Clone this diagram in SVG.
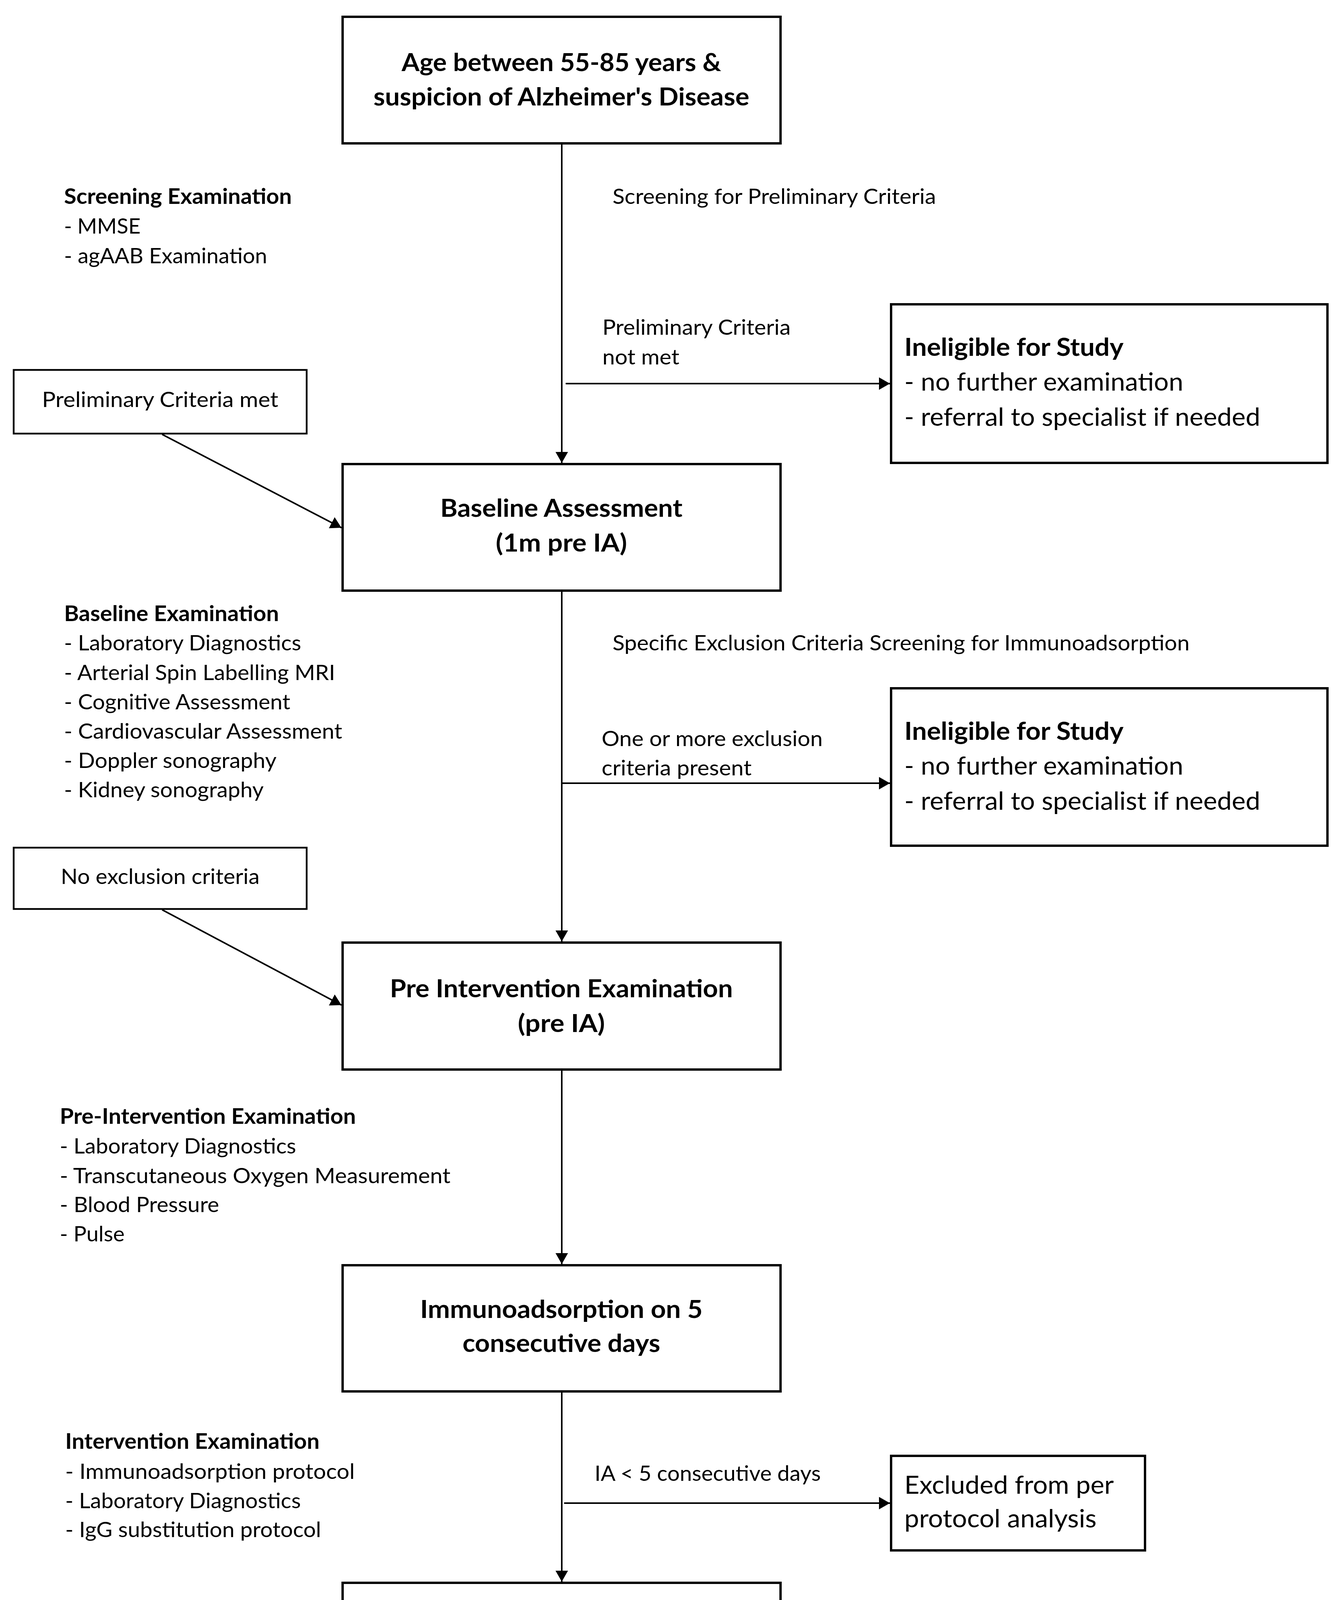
<svg xmlns="http://www.w3.org/2000/svg" width="3425" height="5386" viewBox="0 0 3425 5386">
<style>
  .box { fill: #ffffff; stroke: #000000; stroke-width: 6; }
  .sbox { fill: #ffffff; stroke: #000000; stroke-width: 4.5; }
  .conn { fill: none; stroke: #000000; stroke-width: 4; marker-end: url(#arrow); }
  text { font-family: Lato, "Open Sans", "Liberation Sans", sans-serif; fill: #000000; }
  .tb { font-weight: 700; font-size: 64px; text-anchor: middle; }
  .sh { font-weight: 700; font-size: 55px; }
  .sr { font-size: 55px; }
  .sc { font-size: 55px; text-anchor: middle; }
  .rb { font-weight: 700; font-size: 64px; }
  .rr { font-size: 64px; }
</style>
<defs>
  <marker id="arrow" markerUnits="userSpaceOnUse" markerWidth="28" markerHeight="32" refX="28" refY="16" orient="auto">
    <path d="M0,0 L28,16 L0,32 Z" fill="#000000"/>
  </marker>
</defs>
<rect x="0" y="0" width="3425" height="5386" fill="#ffffff"/>

<g id="connectors">
  <path class="conn" d="M1438,370 V1185"/>
  <path class="conn" d="M1438,1515 V2410"/>
  <path class="conn" d="M1438,2741 V3236"/>
  <path class="conn" d="M1438,3565 V4049"/>
  <path class="conn" d="M1438,4377 V5035"/>
  <path class="conn" d="M1448,982 H2278"/>
  <path class="conn" d="M1438,2005 H2278"/>
  <path class="conn" d="M1444,3848 H2278"/>
  <path class="conn" d="M1444,4748 H2278"/>
  <path class="conn" d="M415,1112 L874,1351"/>
  <path class="conn" d="M415,2329 L874,2573"/>
</g>

<g id="node-start">
  <rect class="box" x="877" y="43" width="1121" height="324"/>
  <text class="tb" x="1437" y="182" textLength="818" lengthAdjust="spacingAndGlyphs">Age between 55-85 years &amp;</text>
  <text class="tb" x="1437" y="270" textLength="962" lengthAdjust="spacingAndGlyphs">suspicion of Alzheimer's Disease</text>
</g>

<g id="label-screening-exam">
  <text class="sh" x="164" y="522" textLength="583" lengthAdjust="spacingAndGlyphs">Screening Examination</text>
  <text class="sr" x="164" y="598" textLength="196" lengthAdjust="spacingAndGlyphs">- MMSE</text>
  <text class="sr" x="164" y="674" textLength="520" lengthAdjust="spacingAndGlyphs">- agAAB Examination</text>
</g>

<g id="label-screening-criteria">
  <text class="sr" x="1568" y="522" textLength="828" lengthAdjust="spacingAndGlyphs">Screening for Preliminary Criteria</text>
</g>

<g id="label-prelim-not-met">
  <text class="sr" x="1542" y="857" textLength="482" lengthAdjust="spacingAndGlyphs">Preliminary Criteria</text>
  <text class="sr" x="1542" y="933" textLength="197" lengthAdjust="spacingAndGlyphs">not met</text>
</g>

<g id="node-prelim-met">
  <rect class="sbox" x="35" y="947" width="750" height="163"/>
  <text class="sc" x="410" y="1042" textLength="605" lengthAdjust="spacingAndGlyphs">Preliminary Criteria met</text>
</g>

<g id="node-ineligible-1">
  <rect class="box" x="2281" y="779" width="1117" height="406"/>
  <text class="rb" x="2315" y="911" textLength="561" lengthAdjust="spacingAndGlyphs">Ineligible for Study</text>
  <text class="rr" x="2315" y="1000" textLength="714" lengthAdjust="spacingAndGlyphs">- no further examination</text>
  <text class="rr" x="2315" y="1090" textLength="911" lengthAdjust="spacingAndGlyphs">- referral to specialist if needed</text>
</g>

<g id="node-baseline">
  <rect class="box" x="877" y="1188" width="1121" height="324"/>
  <text class="tb" x="1437" y="1323" textLength="620" lengthAdjust="spacingAndGlyphs">Baseline Assessment</text>
  <text class="tb" x="1437" y="1412" textLength="336" lengthAdjust="spacingAndGlyphs">(1m pre IA)</text>
</g>

<g id="label-baseline-exam">
  <text class="sh" x="164" y="1590" textLength="550" lengthAdjust="spacingAndGlyphs">Baseline Examination</text>
  <text class="sr" x="164" y="1665" textLength="607" lengthAdjust="spacingAndGlyphs">- Laboratory Diagnostics</text>
  <text class="sr" x="164" y="1741" textLength="694" lengthAdjust="spacingAndGlyphs">- Arterial Spin Labelling MRI</text>
  <text class="sr" x="164" y="1816" textLength="579" lengthAdjust="spacingAndGlyphs">- Cognitive Assessment</text>
  <text class="sr" x="164" y="1891" textLength="712" lengthAdjust="spacingAndGlyphs">- Cardiovascular Assessment</text>
  <text class="sr" x="164" y="1966" textLength="544" lengthAdjust="spacingAndGlyphs">- Doppler sonography</text>
  <text class="sr" x="164" y="2041" textLength="511" lengthAdjust="spacingAndGlyphs">- Kidney sonography</text>
</g>

<g id="label-exclusion-screening">
  <text class="sr" x="1568" y="1665" textLength="1477" lengthAdjust="spacingAndGlyphs">Specific Exclusion Criteria Screening for Immunoadsorption</text>
</g>

<g id="label-exclusion-present">
  <text class="sr" x="1540" y="1910" textLength="566" lengthAdjust="spacingAndGlyphs">One or more exclusion</text>
  <text class="sr" x="1540" y="1985" textLength="384" lengthAdjust="spacingAndGlyphs">criteria present</text>
</g>

<g id="node-ineligible-2">
  <rect class="box" x="2281" y="1762" width="1117" height="403"/>
  <text class="rb" x="2315" y="1894" textLength="561" lengthAdjust="spacingAndGlyphs">Ineligible for Study</text>
  <text class="rr" x="2315" y="1983" textLength="714" lengthAdjust="spacingAndGlyphs">- no further examination</text>
  <text class="rr" x="2315" y="2073" textLength="911" lengthAdjust="spacingAndGlyphs">- referral to specialist if needed</text>
</g>

<g id="node-no-exclusion">
  <rect class="sbox" x="35" y="2170" width="750" height="157"/>
  <text class="sc" x="410" y="2263" textLength="509" lengthAdjust="spacingAndGlyphs">No exclusion criteria</text>
</g>

<g id="node-pre-intervention">
  <rect class="box" x="877" y="2413" width="1121" height="325"/>
  <text class="tb" x="1437" y="2553" textLength="878" lengthAdjust="spacingAndGlyphs">Pre Intervention Examination</text>
  <text class="tb" x="1437" y="2642" textLength="223" lengthAdjust="spacingAndGlyphs">(pre IA)</text>
</g>

<g id="label-pre-intervention-exam">
  <text class="sh" x="153" y="2877" textLength="758" lengthAdjust="spacingAndGlyphs">Pre-Intervention Examination</text>
  <text class="sr" x="153" y="2953" textLength="605" lengthAdjust="spacingAndGlyphs">- Laboratory Diagnostics</text>
  <text class="sr" x="153" y="3029" textLength="1000" lengthAdjust="spacingAndGlyphs">- Transcutaneous Oxygen Measurement</text>
  <text class="sr" x="153" y="3103" textLength="408" lengthAdjust="spacingAndGlyphs">- Blood Pressure</text>
  <text class="sr" x="153" y="3178" textLength="166" lengthAdjust="spacingAndGlyphs">- Pulse</text>
</g>

<g id="node-immunoadsorption">
  <rect class="box" x="877" y="3239" width="1121" height="323"/>
  <text class="tb" x="1437" y="3374" textLength="723" lengthAdjust="spacingAndGlyphs">Immunoadsorption on 5</text>
  <text class="tb" x="1437" y="3461" textLength="506" lengthAdjust="spacingAndGlyphs">consecutive days</text>
</g>

<g id="label-intervention-exam">
  <text class="sh" x="167" y="3709" textLength="651" lengthAdjust="spacingAndGlyphs">Intervention Examination</text>
  <text class="sr" x="167" y="3786" textLength="741" lengthAdjust="spacingAndGlyphs">- Immunoadsorption protocol</text>
  <text class="sr" x="167" y="3861" textLength="603" lengthAdjust="spacingAndGlyphs">- Laboratory Diagnostics</text>
  <text class="sr" x="167" y="3935" textLength="655" lengthAdjust="spacingAndGlyphs">- IgG substitution protocol</text>
</g>

<g id="label-ia-less">
  <text class="sr" x="1522" y="3791" textLength="579" lengthAdjust="spacingAndGlyphs">IA &lt; 5 consecutive days</text>
</g>

<g id="node-excluded">
  <rect class="box" x="2281" y="3727" width="650" height="242"/>
  <text class="rr" x="2315" y="3824" textLength="536" lengthAdjust="spacingAndGlyphs">Excluded from per</text>
  <text class="rr" x="2315" y="3910" textLength="492" lengthAdjust="spacingAndGlyphs">protocol analysis</text>
</g>

<g id="node-follow-up">
  <rect class="box" x="877" y="4052" width="1121" height="322"/>
  <text class="tb" x="1437" y="4186" textLength="295" lengthAdjust="spacingAndGlyphs">Follow-up</text>
  <text class="tb" x="1437" y="4274" textLength="712" lengthAdjust="spacingAndGlyphs">(1m, 6m &amp; 12m post IA)</text>
</g>

<g id="label-follow-up-exam">
  <text class="sh" x="164" y="4443" textLength="611" lengthAdjust="spacingAndGlyphs">Follow-up Examinations</text>
  <text class="sr" x="164" y="4519" textLength="605" lengthAdjust="spacingAndGlyphs">- Laboratory Diagnostics</text>
  <text class="sr" x="164" y="4595" textLength="692" lengthAdjust="spacingAndGlyphs">- Arterial Spin Labelling MRI</text>
  <text class="sr" x="164" y="4670" textLength="576" lengthAdjust="spacingAndGlyphs">- Cognitive Assessment</text>
  <text class="sr" x="164" y="4746" textLength="710" lengthAdjust="spacingAndGlyphs">- Cardiovascular Assessment</text>
  <text class="sr" x="164" y="4821" textLength="542" lengthAdjust="spacingAndGlyphs">- Doppler sonography</text>
  <text class="sr" x="164" y="4896" textLength="509" lengthAdjust="spacingAndGlyphs">- Kidney sonography</text>
</g>

<g id="label-no-consent">
  <text class="sr" x="1518" y="4602" textLength="645" lengthAdjust="spacingAndGlyphs">no consent for Follow-up,</text>
  <text class="sr" x="1518" y="4678" textLength="627" lengthAdjust="spacingAndGlyphs">Patient unreachable, etc.</text>
</g>

<g id="node-lost">
  <rect class="box" x="2281" y="4626" width="650" height="242"/>
  <text class="rr" x="2315" y="4763" textLength="507" lengthAdjust="spacingAndGlyphs">Lost to Follow-up</text>
</g>

<g id="node-termination">
  <rect class="box" x="877" y="5038" width="1121" height="322"/>
  <text class="tb" x="1437" y="5219" textLength="553" lengthAdjust="spacingAndGlyphs">Study Termination</text>
</g>
</svg>
